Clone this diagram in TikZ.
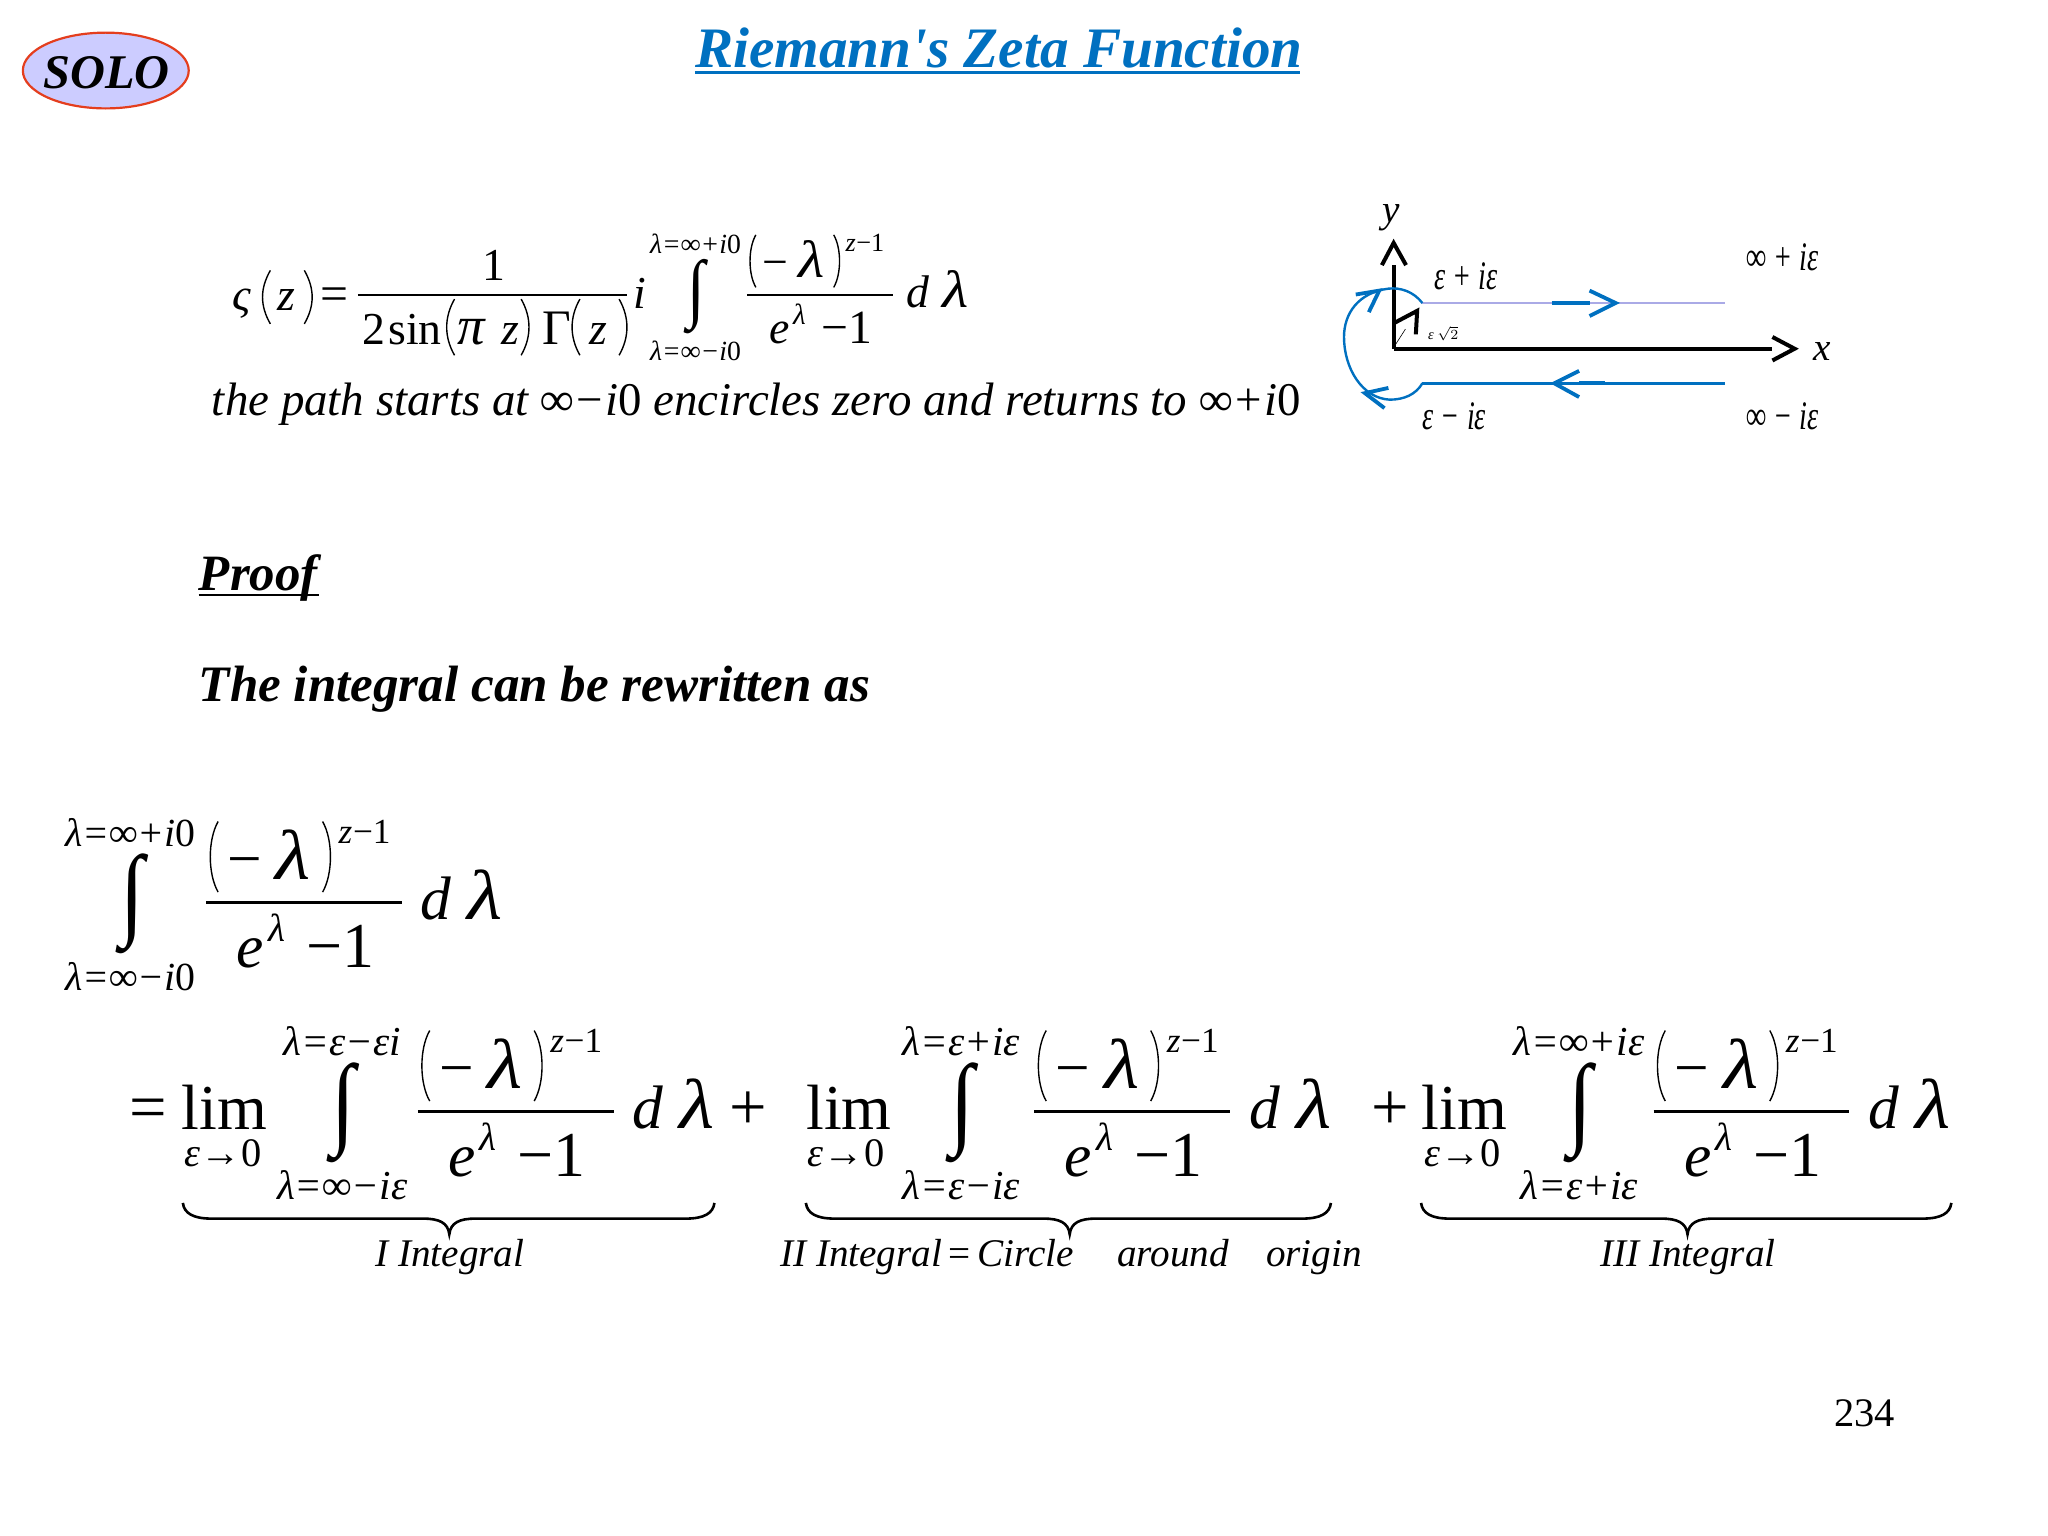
\documentclass[tikz,border=0pt]{standalone}
\usepackage{graphicx}
\usepackage{fontspec}
\setmainfont{Liberation Serif}
\newfontfamily\plainserif{Liberation Serif}
\newcommand{\sz}[1]{\fontsize{\fpeval{#1*0.6531}pt}{\fpeval{#1*0.8}pt}\selectfont}
\newcommand{\uz}{{\upshape 0}}
\newcommand{\wideLam}{\scalebox{1.15}[1]{λ}}
\definecolor{titleBlue}{RGB}{0,112,192}
\definecolor{soloFill}{RGB}{204,204,255}
\definecolor{soloRed}{RGB}{228,62,30}
\definecolor{pathLav}{RGB}{170,170,230}
\tikzset{
	txt/.style={inner sep=0pt,anchor=base west,font=\sz{#1}},
	itxt/.style={inner sep=0pt,anchor=base west,font=\sz{#1}\itshape},
	ctxt/.style={inner sep=0pt,anchor=base,font=\sz{#1}\itshape},
	bitxt/.style={inner sep=0pt,anchor=base west,font=\sz{#1}\bfseries\itshape},
	fracline/.style={line width=1.2pt},
	parenline/.style={line width=0.7pt},
	bracecurve/.style={line width=1.3pt},
	axisline/.style={line width=2pt,miter limit=10},
	contour/.style={titleBlue,line width=1.2pt},
	barb/.style={titleBlue,line width=1.9pt}
}
\begin{document}
\begin{tikzpicture}[x=0.6531pt,y=-0.6531pt]
	\useasboundingbox (0,0) rectangle (1568,1176);
	
	% tall thin brackets, x then top and bottom
	\newcommand{\parenL}[3]{\draw[parenline] (#1+3,#2) .. controls (#1-5,#2+14) and (#1-5,#3-14) .. (#1+3,#3);}
	\newcommand{\parenR}[3]{\draw[parenline] (#1-3,#2) .. controls (#1+5,#2+14) and (#1+5,#3-14) .. (#1-3,#3);}
	
	% underbrace: left end, tip, right end
	\newcommand{\bracePath}[3]{\draw[bracecurve] (#1,921) .. controls (#1+1,929) and (#1+8,933) .. (#1+22,933) -- (#2-20,933) .. controls (#2-8,933) and (#2-1,936) .. (#2,945) .. controls (#2+1,936) and (#2+8,933) .. (#2+20,933) -- (#3-22,933) .. controls (#3-8,933) and (#3-1,929) .. (#3,921);}
	
	% sketch labels are narrow and tall
	\newcommand{\tallText}[1]{\scalebox{0.8}[1.15]{#1}}
	
	% integral with its fraction: name, start of fraction line, scale, limits, their x and size
	\newcommand{\intBlock}[8]{
		\begin{scope}[shift={(#2,#3)},scale=#4,transform shape]
			\node[ctxt=#8] (#1up) at (#7,-43) {#5};
			\node[ctxt=#8] (#1lo) at (#7,67) {#6};
			\node[txt=78,anchor=center] (#1int) at (#7+1,1) {\scalebox{0.85}[1]{∫}};
			\draw[fracline] (0,0) -- (150,0);
			\parenL{6}{-62}{-8}
			\parenR{92}{-62}{-8}
			\node[txt=47] (#1min) at (16,-18) {−};
			\node[itxt=54] (#1lam) at (53,-18) {\wideLam};
			\node[itxt=27] (#1pz) at (101,-45) {z};
			\node[txt=27] (#1pm) at (112,-45) {−1};
			\node[itxt=47] (#1e) at (23,50) {e};
			\node[itxt=30] (#1elam) at (47,30) {λ};
			\node[txt=49] (#1one) at (76,50) {−1};
			\node[itxt=47] (#1d) at (164,13) {d};
			\node[itxt=54] (#1dlam) at (200,13) {\wideLam};
		\end{scope}
	}
	
	% heading and badge
	\draw[fill=soloFill,draw=soloRed,line width=1.1pt] (81,54) ellipse (63.5 and 29);
	\node[bitxt=37] (solo) at (33,68) {SOLO};
	\node[inner sep=0pt,anchor=base west,text=titleBlue,font=\sz{43.8}\plainserif\bfseries\itshape] (title) at (532,52) {Riemann's Zeta Function};
	\draw[titleBlue,line width=1.2pt] (532,55.5) -- (995,55.5);
	
	% top formula
	\node[itxt=35] (zeta) at (178,238) {ς};
	\parenL{204}{207}{248}
	\node[itxt=35] (zarg) at (212,238) {z};
	\parenR{236}{207}{248}
	\node[txt=38] (eq) at (245,238) {=};
	\draw[fracline] (274,226) -- (480,226);
	\node[txt=35] (num) at (369,215) {1};
	\node[txt=35] (two) at (277,264) {2};
	\node[txt=35] (sin) at (297,264) {sin};
	\parenL{345}{229}{272}
	\node[itxt=42] (pi) at (350,264) {π};
	\node[itxt=35] (piz) at (384,264) {z};
	\parenR{402}{229}{272}
	\node[txt=38] (gam) at (415,264) {Γ};
	\parenL{441}{229}{272}
	\node[itxt=35] (gamz) at (451,264) {z};
	\parenR{477}{229}{272}
	\node[itxt=35] (fac) at (485,236) {i};
	\intBlock{top}{572}{226}{0.745}{λ=∞+i\uz}{λ=∞−i\uz}{-53}{28.5}
	\node[itxt=35.9] (path) at (162,318) {the path starts at ∞−i\uz{} encircles zero and returns to ∞+i\uz};
	
	% contour sketch
	\draw[axisline] (1067,267) -- (1067,203);
	\draw[axisline] (1058,203) -- (1067,186) -- (1076.5,203);
	\draw[axisline] (1067,267) -- (1357,267);
	\draw[axisline] (1357,258) -- (1374,267) -- (1357,276);
	\draw[axisline] (1068,247) -- (1085,238) -- (1084,256);
	\draw[line width=0.3pt] (1067,266) -- (1076,252);
	\draw[pathLav,line width=1.4pt] (1089,232) -- (1321,232);
	\draw[contour] (1089,293.5) -- (1321,293.5);
	\draw[contour] (1089,232) .. controls (1082,223) and (1072,220) .. (1063,221) .. controls (1040,224) and (1029,240) .. (1029,258) .. controls (1029,282) and (1043,305) .. (1064,306) .. controls (1075,306) and (1084,302) .. (1089,293.5);
	\draw[barb] (1188,232) -- (1217,232);
	\draw[barb] (1217,222.5) -- (1237,232) -- (1217,242);
	\draw[barb] (1209,293.5) -- (1229,293.5);
	\draw[barb] (1209,284) -- (1190,293.5) -- (1209,304);
	\draw[barb] (1038,225.5) -- (1056,222.5) -- (1048,239);
	\draw[barb] (1063,297) -- (1045,301) -- (1060,312.5);
	\node[itxt=30] (axy) at (1058,170) {y};
	\node[itxt=30] (axx) at (1388,276) {x};
	\node[itxt=27] (lbA) at (1098,222) {\tallText{ε + iε}};
	\node[itxt=27] (lbB) at (1337,207) {\tallText{∞ + iε}};
	\node[itxt=27] (lbC) at (1089,329) {\tallText{ε − iε}};
	\node[itxt=27] (lbD) at (1337,329) {\tallText{∞ − iε}};
	\node[itxt=11] (lbE) at (1093,260) {ε \(\sqrt{2}\)};
	
	% proof text
	\node[bitxt=39] (proof) at (152,452) {Proof};
	\draw[line width=1.1pt] (152,455.5) -- (244,455.5);
	\node[bitxt=39.1] (intro) at (152,537) {The integral can be rewritten as};
	
	% left hand side
	\intBlock{lhs}{158}{691}{1}{λ=∞+i\uz}{λ=∞−i\uz}{-58}{30.5}
	
	% the three limits
	\node[txt=51] (eqB) at (99,865) {=};
	\node[txt=49] (limA) at (139,865) {lim};
	\node[itxt=31] (subA) at (141,893) {ε{\upshape→}\uz};
	\intBlock{one}{320}{851}{1}{λ=ε−εi}{λ=∞−iε}{-58}{31.5}
	\node[txt=51] (plA) at (558,865) {+};
	\node[txt=49] (limB) at (617,865) {lim};
	\node[itxt=31] (subB) at (618,893) {ε{\upshape→}\uz};
	\intBlock{two}{792}{851}{1}{λ=ε+iε}{λ=ε−iε}{-56}{31.5}
	\node[txt=51] (plB) at (1050,865) {+};
	\node[txt=49] (limC) at (1088,865) {lim};
	\node[itxt=31] (subC) at (1090,893) {ε{\upshape→}\uz};
	\intBlock{thr}{1266}{851}{1}{λ=∞+iε}{λ=ε+iε}{-57}{31.5}
	
	% underbraces and their labels
	\bracePath{140}{344}{547}
	\bracePath{617}{819}{1019}
	\bracePath{1088}{1292}{1494}
	\node[itxt=30] (lbI) at (287,970) {I Integral};
	\node[itxt=30] (lbII) at (597,970) {II Integral{\upshape\,=\,}Circle};
	\node[itxt=30] (lbAr) at (855,970) {around};
	\node[itxt=30] (lbOr) at (969,970) {origin};
	\node[itxt=30] (lbIII) at (1225,970) {III Integral};
	
	\node[txt=31] (page) at (1404,1092) {234};
\end{tikzpicture}
\end{document}
